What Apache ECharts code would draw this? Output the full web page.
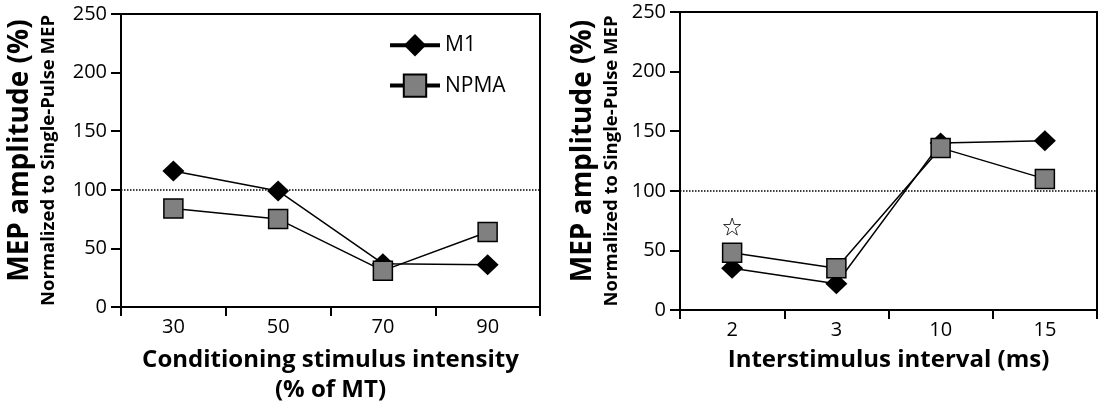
<!DOCTYPE html>
<html>
<head>
<meta charset="utf-8">
<script src="https://cdn.jsdelivr.net/npm/echarts@6/dist/echarts.min.js"></script>
<style>
  html, body { margin: 0; padding: 0; background: #fff; }
  #chart { width: 1105px; height: 409px; }
</style>
</head>
<body>
<div id="chart"></div>
<script>
// left panel: conditioning stimulus intensity
var intensityCats = ['30', '50', '70', '90'];
var intensityM1 = [116, 99, 37, 36];
var intensityNPMA = [84, 75, 31, 64];

// right panel: interstimulus interval
var isiCats = ['2', '3', '10', '15'];
var isiM1 = [35, 22, 140, 142];
var isiNPMA = [48, 35, 136, 110];
var isiStar = [70, null, null, null];

var yTicks = { min: 0, max: 250, interval: 50 };
var baseline = 100;

var FONT = 'Open Sans';
var chart = echarts.init(document.getElementById('chart'));

function yAxis(idx, gap) {
    return {
        type: 'value',
        gridIndex: idx,
        min: yTicks.min,
        max: yTicks.max,
        interval: yTicks.interval,
        splitLine: { show: false },
        axisLine: { show: true, lineStyle: { color: '#000', width: 2 } },
        axisTick: { show: true, length: 10, lineStyle: { color: '#000', width: 2 } },
        axisLabel: { color: '#000', fontSize: 20, fontFamily: FONT, margin: 14 },
        name: '{a|MEP amplitude (%)}\n{b|Normalized to Single-Pulse MEP}',
        nameLocation: 'middle',
        nameRotate: 90,
        nameGap: gap,
        nameTextStyle: {
            fontFamily: FONT,
            rich: {
                a: { fontSize: 28, fontWeight: 'bold', color: '#000', fontFamily: FONT, lineHeight: 34, padding: [0, 0, 0, 20] },
                b: { fontSize: 18.5, fontWeight: 'bold', color: '#000', fontFamily: FONT, lineHeight: 23 }
            }
        }
    };
}

function xAxis(idx, cats, name, gap) {
    return {
        type: 'category',
        gridIndex: idx,
        data: cats,
        boundaryGap: true,
        axisLine: { show: true, lineStyle: { color: '#000', width: 2 } },
        axisTick: { show: true, length: 9, lineStyle: { color: '#000', width: 2 } },
        axisLabel: { color: '#000', fontSize: 20, fontFamily: FONT, margin: 10 },
        name: name,
        nameLocation: 'middle',
        nameGap: gap,
        nameTextStyle: { color: '#000', fontSize: 24, fontWeight: 'bold', fontFamily: FONT, lineHeight: 30 }
    };
}

function m1Series(idx, data) {
    return {
        name: 'M1',
        type: 'line',
        xAxisIndex: idx,
        yAxisIndex: idx,
        data: data,
        symbol: 'diamond',
        symbolSize: [22, 21],
        lineStyle: { color: '#000', width: 1.5 },
        itemStyle: { color: '#000' },
        z: 3,
        markLine: {
            silent: true,
            symbol: 'none',
            label: { show: false },
            lineStyle: { color: '#000', type: 'dotted', width: 1.5 },
            data: [{ yAxis: baseline }]
        }
    };
}

function npmaSeries(idx, data) {
    return {
        name: 'NPMA',
        type: 'line',
        xAxisIndex: idx,
        yAxisIndex: idx,
        data: data,
        symbol: 'rect',
        symbolSize: 19,
        lineStyle: { color: '#000', width: 1.5 },
        itemStyle: { color: '#808080', borderColor: '#000', borderWidth: 1.5 },
        z: 4
    };
}

var starPath = 'path://M50,0 L61.8,35.1 L98.9,35.5 L69.1,57.6 L80.2,93.1 L50,71.6 L19.8,93.1 L30.9,57.6 L1.1,35.5 L38.2,35.1 Z';

var option = {
    backgroundColor: '#fff',
    animation: false,
    textStyle: { fontFamily: FONT },
    grid: [
        { left: 121, top: 14, width: 419, height: 293, show: true, borderColor: '#000', borderWidth: 2, outerBoundsMode: 'none', containLabel: false },
        { left: 680, top: 12, width: 417, height: 298, show: true, borderColor: '#000', borderWidth: 2, outerBoundsMode: 'none', containLabel: false }
    ],
    legend: {
        data: ['M1', 'NPMA'],
        orient: 'vertical',
        left: 383,
        top: 29,
        itemWidth: 50,
        itemHeight: 28,
        itemGap: 17,
        textStyle: { color: '#000', fontSize: 21, fontFamily: FONT },
        lineStyle: { width: 4, color: '#000' }
    },
    xAxis: [
        xAxis(0, intensityCats, 'Conditioning stimulus intensity\n(% of MT)', 38),
        xAxis(1, isiCats, 'Interstimulus interval (ms)', 32)
    ],
    yAxis: [yAxis(0, 61), yAxis(1, 57)],
    series: [
        m1Series(0, intensityM1),
        npmaSeries(0, intensityNPMA),
        m1Series(1, isiM1),
        npmaSeries(1, isiNPMA),
        {
            name: 'star',
            type: 'scatter',
            xAxisIndex: 1,
            yAxisIndex: 1,
            data: isiStar,
            symbol: starPath,
            symbolSize: 17,
            itemStyle: { color: '#fff', borderColor: '#000', borderWidth: 1 },
            z: 5
        }
    ]
};

chart.setOption(option);
</script>
</body>
</html>
